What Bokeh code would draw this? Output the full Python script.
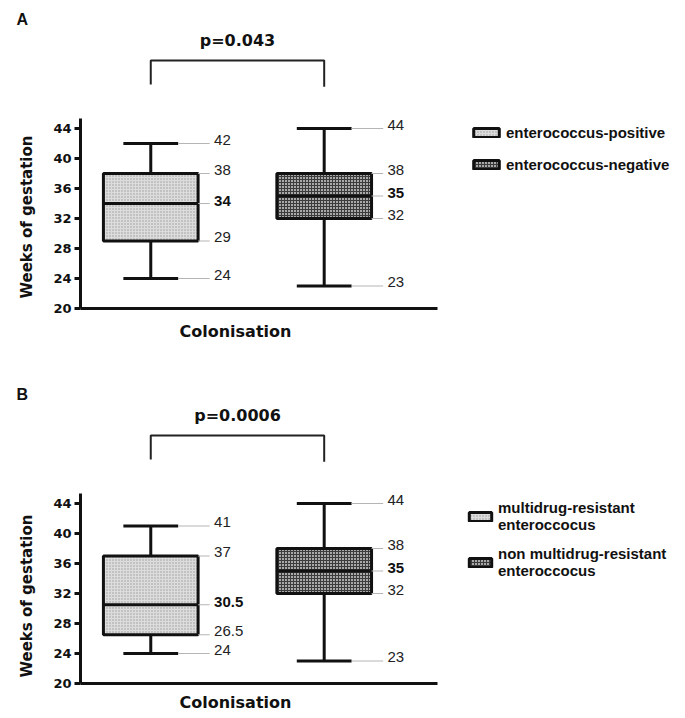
from bokeh.plotting import figure
from bokeh.models import Range1d, FixedTicker, Legend, LegendItem, ColumnDataSource, Title
from bokeh.layouts import column
from bokeh.embed import file_html
from bokeh.resources import INLINE
from bokeh.core.properties import value

# ---------------- data ----------------
positions = [1, 2]

a_letter = "A"
a_labels = ["enterococcus-positive", "enterococcus-negative"]
a_min = [24, 23]
a_q1 = [29, 32]
a_med = [34, 35]
a_q3 = [38, 38]
a_max = [42, 44]
a_p = "p=0.043"

b_letter = "B"
b_labels = ["multidrug-resistant\nenteroccocus", "non multidrug-resistant\nenteroccocus"]
b_min = [24, 23]
b_q1 = [26.5, 32]
b_med = [30.5, 35]
b_q3 = [37, 38]
b_max = [41, 44]
b_p = "p=0.0006"

y_ticks = [20, 24, 28, 32, 36, 40, 44]
y_title = "Weeks of gestation"
x_title = "Colonisation"

# ---------------- styling ----------------
W = 685
LEFT = 78
PX = 174.0      # px per x unit
PY = 7.5        # px per week
BOX_HALF = 0.273
CAP_HALF = 0.158
fills = ["#dcdcdc", "#a9a9a9"]
hatches = ["dot", "cross"]
hatch_colors = ["#9a9a9a", "#3c3c3c"]


def fmt(v):
    return f"{v:g}"


def make_panel(letter, labels, mn, q1, md, q3, mx, ptext, height, top, bottom,
               legend_loc, glyph_w, xlab_standoff, ylab_offset):
    frame_w = W - LEFT
    x0 = 1 - (148.5 - LEFT) / PX
    x_range = Range1d(x0, x0 + frame_w / PX)
    frame_h = height - bottom - top
    y_range = Range1d(20, 20 + frame_h / PY)
    p = figure(width=W, height=height, x_range=x_range, y_range=y_range,
               output_backend="svg", toolbar_location=None,
               min_border_left=LEFT, min_border_right=0, min_border_top=top,
               min_border_bottom=bottom)
    p.outline_line_color = None
    p.xgrid.visible = False
    p.ygrid.visible = False

    # y axis
    ya = p.yaxis[0]
    ya.ticker = FixedTicker(ticks=y_ticks)
    ya.bounds = (20, 20 + 190 / PY)
    ya.axis_line_width = 3
    ya.axis_line_color = "#111111"
    ya.major_tick_line_width = 3
    ya.major_tick_line_color = "#111111"
    ya.major_tick_out = 6
    ya.major_tick_in = 0
    ya.minor_tick_line_color = None
    ya.major_label_text_font = "DejaVu Sans"
    ya.major_label_text_font_style = "bold"
    ya.major_label_text_font_size = "13px"
    ya.major_label_text_color = "#111111"
    ya.major_label_standoff = 3

    # x axis
    xa = p.xaxis[0]
    xa.ticker = FixedTicker(ticks=[])
    xa.bounds = (x0, 1 + (436 - 148.5) / PX)
    xa.axis_line_width = 3
    xa.axis_line_color = "#111111"
    xa.major_tick_out = 0
    xa.major_tick_in = 0
    xa.minor_tick_line_color = None

    # titles: panel letter, axis titles (placed to match the original layout)
    p.add_layout(Title(text=letter, align="left", offset=-64, standoff=5,
                       text_font="Liberation Sans", text_font_style="bold",
                       text_font_size="16px", text_color="#111111"), "above")
    p.add_layout(Title(text=y_title, align="left", offset=ylab_offset, standoff=30,
                       text_font="DejaVu Sans", text_font_style="bold",
                       text_font_size="15px", text_color="#111111"), "left")
    p.add_layout(Title(text=x_title, align="left", offset=99, standoff=xlab_standoff,
                       text_font="DejaVu Sans", text_font_style="bold",
                       text_font_size="16px", text_color="#111111"), "below")

    items = []
    for i, xc in enumerate(positions):
        # whiskers
        p.segment(x0=[xc, xc], y0=[q3[i], mn[i]], x1=[xc, xc], y1=[mx[i], q1[i]],
                  line_width=3, line_color="#111111")
        # caps
        p.segment(x0=[xc - CAP_HALF, xc - CAP_HALF], y0=[mx[i], mn[i]],
                  x1=[xc + CAP_HALF, xc + CAP_HALF], y1=[mx[i], mn[i]],
                  line_width=3, line_color="#111111")
        # box
        r = p.quad(left=[xc - BOX_HALF], right=[xc + BOX_HALF], bottom=[q1[i]], top=[q3[i]],
                   fill_color=fills[i], hatch_pattern=hatches[i], hatch_color=hatch_colors[i],
                   hatch_scale=3, hatch_weight=1, line_color="#111111", line_width=3)
        # median
        p.segment(x0=[xc - BOX_HALF], y0=[md[i]], x1=[xc + BOX_HALF], y1=[md[i]],
                  line_width=3, line_color="#111111")
        items.append(LegendItem(label=value(labels[i]), renderers=[r]))

        # value annotation lines + texts
        vals = [mx[i], q3[i], md[i], q1[i], mn[i]]
        starts = [xc + CAP_HALF, xc + BOX_HALF, xc + BOX_HALF, xc + BOX_HALF, xc + CAP_HALF]
        p.segment(x0=starts, y0=vals, x1=[xc + 0.34] * 5, y1=vals,
                  line_width=1, line_color="#b5b5b5")
        norm = ColumnDataSource(dict(x=[xc + 0.365] * 4,
                                     y=[mx[i], q3[i], q1[i], mn[i]],
                                     t=[fmt(mx[i]), fmt(q3[i]), fmt(q1[i]), fmt(mn[i])]))
        p.text(x="x", y="y", text="t", source=norm, text_font=value("Liberation Sans"),
               text_font_size=value("15px"), text_color="#222222",
               text_baseline="middle", text_align="left", y_offset=-4)
        p.text(x=[xc + 0.365], y=[md[i]], text=[fmt(md[i])], text_font=value("Liberation Sans"),
               text_font_size=value("15px"), text_font_style="bold", text_color="#111111",
               text_baseline="middle", text_align="left", y_offset=-3)

    # significance bracket
    yb_top = 20 + 248 / PY
    yb_leg = 20 + 224 / PY
    p.line(x=[positions[0], positions[0], positions[1], positions[1]],
           y=[yb_leg, yb_top, yb_top, yb_leg - 0.3], line_width=2, line_color="#222222")
    p.text(x=[(positions[0] + positions[1]) / 2], y=[20 + 268 / PY], text=[ptext],
           text_font=value("DejaVu Sans"), text_font_style="bold", text_font_size=value("16px"),
           text_color="#111111", text_align="center", text_baseline="middle")

    leg = Legend(items=items, location=legend_loc, padding=0, margin=0, spacing=12,
                 glyph_width=glyph_w, glyph_height=11, label_standoff=4,
                 label_height=20,
                 label_text_font="Liberation Sans", label_text_font_style="bold",
                 label_text_font_size="15px", label_text_color="#111111",
                 border_line_color=None, background_fill_alpha=0)
    p.add_layout(leg)
    return p


pa = make_panel(a_letter, a_labels, a_min, a_q1, a_med, a_q3, a_max, a_p,
                height=363, top=30, bottom=55, legend_loc=(390, 134), glyph_w=32,
                xlab_standoff=22, ylab_offset=10)
pb = make_panel(b_letter, b_labels, b_min, b_q1, b_med, b_q3, b_max, b_p,
                height=355, top=42, bottom=35, legend_loc=(386, 104), glyph_w=28,
                xlab_standoff=14, ylab_offset=6)

layout = column(pa, pb, spacing=0)
open("out.html", "w").write(file_html(layout, INLINE))
